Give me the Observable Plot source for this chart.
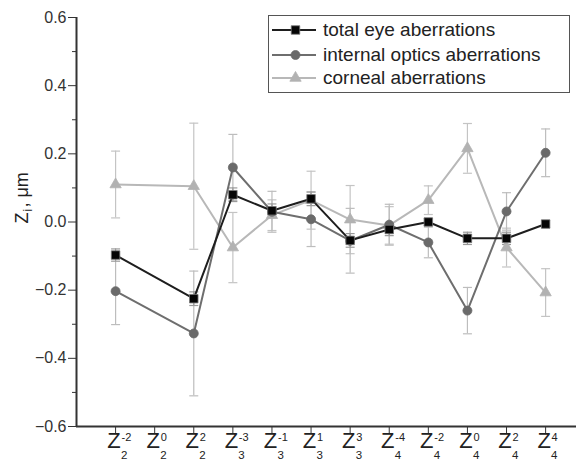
<!DOCTYPE html>
<html><head><meta charset="utf-8">
<script src="https://cdn.jsdelivr.net/npm/d3@7"></script>
<script src="https://cdn.jsdelivr.net/npm/@observablehq/plot@0.6"></script>
<style>
body{margin:0;background:#fff;font-family:"Liberation Sans",Arial,sans-serif;}
#wrap{position:relative;width:576px;height:467px;}
#legend{position:absolute;left:268px;top:15px;width:302px;height:78px;border:1.5px solid #555;box-sizing:border-box;background:#fff;}
.row{position:absolute;left:2px;height:24px;display:flex;align-items:center;font-size:19px;color:#222;white-space:nowrap;}
.row svg{display:block;margin-right:4px;}
</style></head><body><div id="wrap"><div id="legend"></div></div>
<script>
// ---- data ----
const categories = ["Z2^-2","Z2^0","Z2^2","Z3^-3","Z3^-1","Z3^1","Z3^3","Z4^-4","Z4^-2","Z4^0","Z4^2","Z4^4"];
const subs = ["2","2","2","3","3","3","3","4","4","4","4","4"];
const sups = ["-2","0","2","-3","-1","1","3","-4","-2","0","2","4"];
const positions = [1,2,3,4,5,6,7,8,9,10,11,12];

const totalEye     = [-0.097, null, -0.225, 0.080, 0.033, 0.068, -0.054, -0.022, 0.000, -0.048, -0.048, -0.006];
const totalEyeErr  = [0.018, null, 0.020, 0.020, 0.020, 0.020, 0.020, 0.018, 0.010, 0.018, 0.018, 0.010];
const internal     = [-0.203, null, -0.327, 0.160, 0.030, 0.008, -0.055, -0.008, -0.060, -0.260, 0.031, 0.203];
const internalErr  = [0.098, null, 0.183, 0.097, 0.060, 0.080, 0.095, 0.060, 0.045, 0.068, 0.055, 0.070];
const corneal      = [0.110, null, 0.105, -0.075, 0.020, 0.064, 0.007, -0.010, 0.064, 0.216, -0.075, -0.207];
const cornealErr   = [0.098, null, 0.185, 0.103, 0.045, 0.085, 0.100, 0.055, 0.042, 0.073, 0.057, 0.070];

const seriesNames = ["total eye aberrations","internal optics aberrations","corneal aberrations"];
const yTicks = [-0.6,-0.4,-0.2,0.0,0.2,0.4,0.6];
const yMinor = [-0.5,-0.3,-0.1,0.1,0.3,0.5];

// ---- build rows ----
function rows(vals, errs) {
  return positions.map((p, i) => ({x: p, y: vals[i], e: errs[i]})).filter(d => d.y != null);
}
const tRows = rows(totalEye, totalEyeErr);
const iRows = rows(internal, internalErr);
const cRows = rows(corneal, cornealErr);
const ticksData = positions.map((p, i) => ({x: p, sub: subs[i], sup: sups[i]}));

const styles = {
  total:    {line: "#1e1e1e", fill: "#050505", stroke: "#777", err: "#9a9a9a", symbol: "square", r: 4.8},
  internal: {line: "#6e6e6e", fill: "#6a6a6a", stroke: "#6a6a6a", err: "#bdbdbd", symbol: "circle", r: 4.5},
  corneal:  {line: "#b8b8b8", fill: "#b2b2b2", stroke: "#b2b2b2", err: "#c4c4c4", symbol: "triangle", r: 4.2}
};
const capW = 0.115;
function errMarks(data, st) {
  return [
    Plot.ruleX(data, {x: "x", y1: d => d.y - d.e, y2: d => d.y + d.e, stroke: st.err, strokeWidth: 1.2}),
    Plot.link(data, {x1: d => d.x - capW, x2: d => d.x + capW, y1: d => d.y + d.e, y2: d => d.y + d.e, stroke: st.err, strokeWidth: 1.2}),
    Plot.link(data, {x1: d => d.x - capW, x2: d => d.x + capW, y1: d => d.y - d.e, y2: d => d.y - d.e, stroke: st.err, strokeWidth: 1.2})
  ];
}
function seriesMarks(data, st) {
  return [
    Plot.line(data, {x: "x", y: "y", stroke: st.line, strokeWidth: 2}),
    Plot.dot(data, {x: "x", y: "y", symbol: () => st.symbol, r: st.r, fill: st.fill, stroke: st.stroke, strokeWidth: 0.8})
  ];
}

const chart = Plot.plot({
  width: 576, height: 467,
  marginLeft: 76, marginRight: 0, marginTop: 17, marginBottom: 41,
  style: {fontFamily: "Liberation Sans, Arial, sans-serif", fontSize: "16px", color: "#333", background: "#fff"},
  x: {domain: [0, 12.79], axis: null},
  y: {domain: [-0.6, 0.6], axis: null},
  symbol: {type: "identity"},
  marks: [
    ...errMarks(cRows, styles.corneal),
    ...errMarks(iRows, styles.internal),
    ...errMarks(tRows, styles.total),
    ...seriesMarks(cRows, styles.corneal),
    ...seriesMarks(iRows, styles.internal),
    ...seriesMarks(tRows, styles.total),
    Plot.axisY({ticks: yTicks, tickFormat: d3.format(".1f"), tickSize: 8, tickPadding: 2, fontSize: 16, label: null, stroke: "#333"}),
    Plot.axisY({ticks: yMinor, tickFormat: () => "", tickSize: 4, label: null, stroke: "#333"}),
    Plot.axisX({ticks: positions, tickFormat: () => "", tickSize: 7, label: null, stroke: "#333"}),
    Plot.ruleX([0], {stroke: "#333", strokeWidth: 2}),
    Plot.ruleY([-0.6], {stroke: "#333", strokeWidth: 2}),
    // x tick labels: Z with sub/superscripts
    Plot.text(ticksData, {x: "x", frameAnchor: "bottom", text: () => "Z", dy: 21, dx: -1.5, fontSize: 22, fill: "#222"}),
    Plot.text(ticksData, {x: "x", frameAnchor: "bottom", text: "sup", dy: 14.5, dx: 6, textAnchor: "start", fontSize: 11, fill: "#222"}),
    Plot.text(ticksData, {x: "x", frameAnchor: "bottom", text: "sub", dy: 32, dx: 5.5, textAnchor: "start", fontSize: 11.5, fill: "#222"}),
    // y label "Z_i, μm"
    Plot.text(["Z"], {text: d => d, frameAnchor: "left", rotate: -90, textAnchor: "start", dx: -54, dy: 1.5, fontSize: 18, fill: "#222"}),
    Plot.text(["i"], {text: d => d, frameAnchor: "left", rotate: -90, textAnchor: "start", dx: -48, dy: -10.5, fontSize: 12, fill: "#222"}),
    Plot.text([", μm"], {text: d => d, frameAnchor: "left", rotate: -90, textAnchor: "start", dx: -54, dy: -14.5, fontSize: 18, fill: "#222"})
  ]
});
document.getElementById("wrap").prepend(chart);

// ---- legend ----
const legend = document.getElementById("legend");
const legendKeys = ["total", "internal", "corneal"];
const rowTops = [2, 26.5, 50];
legendKeys.forEach((k, i) => {
  const st = styles[k];
  const row = document.createElement("div");
  row.className = "row";
  row.style.top = rowTops[i] + "px";
  const svg = d3.create("svg").attr("width", 48).attr("height", 20);
  svg.append("line").attr("x1", 1).attr("x2", 45).attr("y1", 10).attr("y2", 10).attr("stroke", st.line).attr("stroke-width", 2);
  const symType = {square: d3.symbolSquare, circle: d3.symbolCircle, triangle: d3.symbolTriangle}[st.symbol];
  svg.append("path").attr("transform", "translate(24.5,10)")
    .attr("d", d3.symbol(symType, Math.PI * st.r * st.r)())
    .attr("fill", st.fill).attr("stroke", st.stroke).attr("stroke-width", 0.8);
  row.append(svg.node());
  const span = document.createElement("span");
  span.textContent = seriesNames[i];
  row.append(span);
  legend.append(row);
});
</script>
</body></html>
